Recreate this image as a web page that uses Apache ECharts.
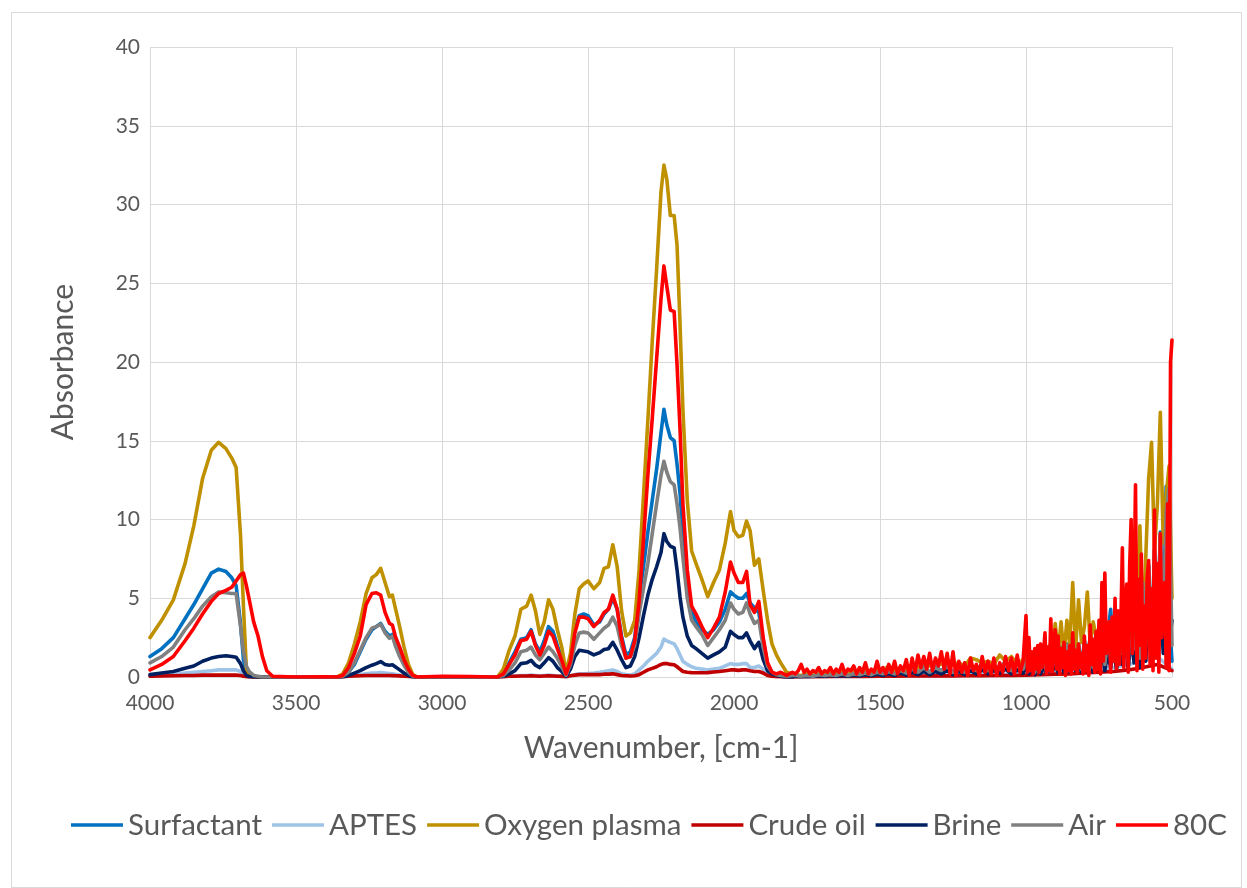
<!DOCTYPE html>
<html>
<head>
<meta charset="utf-8">
<script src="https://cdn.jsdelivr.net/npm/echarts@6/dist/echarts.min.js"></script>
<style>
html,body{margin:0;padding:0;background:#fff;}
#chart{width:1247px;height:888px;}
</style>
</head>
<body>
<div id="chart"></div>
<script>
// ---------- DATA ----------
const seriesNames = ["Surfactant", "APTES", "Oxygen plasma", "Crude oil", "Brine", "Air", "80C"];
const seriesColors = ["#0070C0", "#9DC3E6", "#BF9000", "#C00000", "#002060", "#808080", "#FF0000"];
const xTicks = [4000, 3500, 3000, 2500, 2000, 1500, 1000, 500];

// smooth part of the spectrum (4000 -> 1800 cm-1)
const wnA = [4000, 3960, 3920, 3880, 3850, 3820, 3790, 3765, 3740, 3720, 3705, 3690, 3680, 3670, 3660, 3645, 3630, 3615, 3600, 3580, 3500, 3400, 3360,
  3340, 3320, 3300, 3280, 3260, 3240, 3225, 3210, 3195, 3180, 3170, 3160, 3145, 3130, 3115, 3100, 3085, 3000, 2900, 2830,
  2810, 2790, 2770, 2750, 2730, 2710, 2695, 2680, 2665, 2650, 2635, 2620, 2605, 2590, 2575, 2560, 2545, 2530, 2515, 2500,
  2480, 2460, 2445, 2430, 2415, 2400, 2385, 2370, 2355, 2340, 2325, 2310, 2295, 2280, 2265, 2250, 2240, 2230, 2218, 2205,
  2195, 2185, 2175, 2160, 2145, 2130, 2110, 2090, 2070, 2050, 2030, 2012, 2000, 1985, 1970, 1957, 1945, 1930, 1915, 1900,
  1885, 1870, 1855, 1840, 1820, 1800];

const surfactantA = [1.3, 1.8, 2.5, 3.7, 4.6, 5.6, 6.6, 6.85, 6.7, 6.3, 5.8, 3.4, 1.1, 0.3, 0.1, 0, 0, 0, 0, 0, 0, 0, 0,
  0.05, 0.3, 0.8, 1.6, 2.4, 3.0, 3.2, 3.4, 2.9, 2.6, 2.7, 2.1, 1.4, 0.8, 0.35, 0.05, 0, 0, 0, 0,
  0, 0.2, 0.9, 1.6, 2.4, 2.5, 3.0, 2.1, 1.6, 2.3, 3.2, 2.9, 2.0, 1.2, 0.2, 1.1, 3.0, 3.9, 4.0, 3.9,
  3.3, 3.5, 4.0, 4.3, 5.0, 4.3, 2.6, 1.4, 1.6, 2.5, 5.0, 7.0, 9.2, 11.2, 13.2, 15.5, 17.0, 16.0, 15.2, 15.0,
  13.5, 11.7, 9.0, 6.0, 4.2, 3.5, 3.0, 2.7, 3.0, 3.5, 4.3, 5.4, 5.2, 5.0, 5.0, 5.3, 4.7, 4.4, 4.1, 2.3,
  0.8, 0.3, 0.1, 0.05, 0, 0];
const aptesA = [0.05, 0.1, 0.15, 0.25, 0.3, 0.35, 0.4, 0.45, 0.45, 0.45, 0.45, 0.35, 0.15, 0.05, 0, 0, 0, 0, 0, 0, 0, 0, 0,
  0, 0.05, 0.1, 0.15, 0.2, 0.25, 0.25, 0.28, 0.25, 0.22, 0.2, 0.18, 0.12, 0.08, 0.04, 0, 0, 0, 0, 0,
  0, 0.02, 0.05, 0.08, 0.1, 0.1, 0.12, 0.1, 0.08, 0.1, 0.12, 0.1, 0.08, 0.05, 0.02, 0.08, 0.15, 0.2, 0.2, 0.22,
  0.25, 0.3, 0.35, 0.4, 0.45, 0.35, 0.2, 0.15, 0.12, 0.2, 0.45, 0.7, 1.0, 1.25, 1.5, 1.9, 2.4, 2.3, 2.2, 2.1,
  1.8, 1.4, 1.0, 0.8, 0.65, 0.55, 0.5, 0.45, 0.5, 0.55, 0.7, 0.85, 0.8, 0.8, 0.85, 0.85, 0.6, 0.6, 0.7, 0.5,
  0.25, 0.1, 0.05, 0.03, 0, 0];
const oxygenA = [2.5, 3.6, 4.9, 7.2, 9.6, 12.6, 14.4, 14.9, 14.5, 13.9, 13.3, 9.0, 4.5, 0.5, 0.1, 0, 0, 0, 0, 0, 0, 0, 0,
  0.2, 0.9, 2.1, 3.5, 5.3, 6.3, 6.5, 6.9, 6.0, 5.1, 5.2, 4.4, 3.2, 1.9, 0.8, 0.15, 0, 0, 0, 0,
  0, 0.5, 1.7, 2.6, 4.3, 4.5, 5.2, 4.2, 2.7, 3.5, 4.9, 4.3, 3.0, 1.9, 0.3, 1.5, 4.0, 5.6, 5.9, 6.1,
  5.6, 6.0, 6.9, 7.0, 8.4, 7.0, 4.2, 2.6, 2.8, 3.6, 6.8, 11.5, 16.3, 21.3, 25.9, 30.8, 32.5, 31.6, 29.3, 29.3,
  27.4, 22.5, 17.0, 11.2, 8.0, 7.2, 6.2, 5.1, 6.0, 6.8, 8.5, 10.5, 9.3, 8.9, 9.0, 9.9, 9.3, 7.1, 7.5, 5.5,
  3.6, 2.1, 1.4, 0.9, 0.3, 0.2];
const crudeA = [0.05, 0.06, 0.08, 0.1, 0.1, 0.12, 0.12, 0.13, 0.12, 0.12, 0.12, 0.1, 0.05, 0.02, 0, 0, 0, 0, 0, 0, 0, 0, 0,
  0.02, 0.05, 0.07, 0.08, 0.1, 0.1, 0.1, 0.1, 0.1, 0.1, 0.09, 0.08, 0.07, 0.05, 0.03, 0.02, 0, 0, 0, 0,
  0, 0.02, 0.05, 0.05, 0.06, 0.06, 0.07, 0.06, 0.05, 0.06, 0.07, 0.06, 0.05, 0.04, 0.02, 0.08, 0.12, 0.15, 0.15, 0.15,
  0.15, 0.15, 0.18, 0.18, 0.2, 0.15, 0.1, 0.08, 0.06, 0.08, 0.15, 0.3, 0.45, 0.55, 0.65, 0.8, 0.85, 0.85, 0.8, 0.78,
  0.65, 0.5, 0.35, 0.3, 0.28, 0.27, 0.27, 0.28, 0.32, 0.35, 0.4, 0.45, 0.45, 0.42, 0.45, 0.45, 0.4, 0.35, 0.35, 0.25,
  0.1, 0.05, 0.02, 0.02, 0, 0];
const brineA = [0.15, 0.25, 0.35, 0.55, 0.7, 1.0, 1.2, 1.3, 1.35, 1.3, 1.25, 0.85, 0.4, 0.1, 0.03, 0, 0, 0, 0, 0, 0, 0, 0,
  0.02, 0.1, 0.25, 0.4, 0.6, 0.75, 0.85, 0.98, 0.8, 0.75, 0.78, 0.65, 0.45, 0.25, 0.1, 0.02, 0, 0, 0, 0,
  0, 0.05, 0.2, 0.4, 0.85, 0.9, 1.06, 0.75, 0.6, 0.9, 1.23, 1.0, 0.6, 0.35, 0.05, 0.5, 1.3, 1.7, 1.65, 1.6,
  1.4, 1.55, 1.75, 1.8, 2.2, 1.7, 1.1, 0.6, 0.7, 1.3, 2.5, 3.9, 5.2, 6.2, 7.0, 7.9, 9.1, 8.6, 8.3, 8.2,
  6.8, 5.1, 3.8, 2.6, 2.0, 1.8, 1.5, 1.2, 1.4, 1.6, 1.9, 2.9, 2.7, 2.5, 2.5, 2.8, 2.3, 1.8, 2.2, 1.1,
  0.4, 0.2, 0.1, 0.05, 0, 0];
const airA = [0.9, 1.3, 1.9, 3.0, 3.7, 4.5, 5.1, 5.4, 5.35, 5.3, 5.3, 3.2, 1.6, 0.7, 0.35, 0.1, 0.05, 0, 0, 0, 0, 0, 0,
  0.05, 0.3, 0.9, 1.7, 2.5, 3.1, 3.2, 3.35, 2.8, 2.45, 2.6, 2.0, 1.3, 0.75, 0.3, 0.05, 0, 0, 0, 0,
  0, 0.1, 0.45, 0.9, 1.6, 1.7, 1.9, 1.4, 1.1, 1.5, 1.9, 1.6, 1.2, 0.66, 0.1, 0.8, 2.0, 2.8, 2.85, 2.8,
  2.4, 2.8, 3.1, 3.3, 3.8, 3.2, 2.0, 1.2, 1.3, 2.0, 4.0, 5.6, 7.2, 9.1, 11.0, 12.8, 13.7, 13.0, 12.4, 12.2,
  11.0, 9.5, 7.6, 5.0, 3.6, 3.2, 2.7, 2.0, 2.5, 3.0, 3.6, 4.7, 4.3, 4.0, 4.1, 4.7, 4.0, 3.4, 3.6, 1.9,
  0.7, 0.3, 0.15, 0.1, 0.05, 0.1];
const c80A = [0.45, 0.8, 1.3, 2.3, 3.1, 4.0, 4.8, 5.3, 5.5, 5.7, 6.1, 6.5, 6.6, 5.8, 4.9, 3.5, 2.6, 1.3, 0.4, 0.05, 0, 0.02, 0,
  0.1, 0.6, 1.5, 2.6, 4.6, 5.3, 5.35, 5.2, 4.1, 3.4, 3.3, 2.6, 1.9, 1.1, 0.5, 0.1, 0, 0.05, 0.03, 0,
  0, 0.2, 0.8, 1.4, 2.3, 2.4, 2.9, 2.0, 1.4, 2.0, 2.9, 2.6, 1.8, 1.06, 0.2, 1.0, 2.8, 3.8, 3.8, 3.7,
  3.2, 3.6, 4.1, 4.3, 5.2, 4.3, 2.4, 1.2, 1.3, 2.3, 4.8, 8.7, 12.8, 16.4, 20.2, 24.0, 26.1, 24.8, 23.3, 23.2,
  19.8, 15.8, 11.0, 6.8, 4.5, 4.0, 3.2, 2.5, 3.1, 3.8, 5.4, 7.3, 6.6, 6.0, 6.0, 6.7, 4.6, 4.1, 4.8, 2.5,
  0.9, 0.3, 0.2, 0.3, 0.1, 0.3];

// noisy fingerprint part (1790 -> 500 cm-1), regular sampling grids
function sampleGrid(from, to, step) { const a = []; for (let w = from; w >= to; w -= step) a.push(w); return a; }
const wnFine = sampleGrid(1790, 1010, 10).concat(sampleGrid(1000, 500, 5));   // 80C
const wnMid = sampleGrid(1790, 1010, 20).concat(sampleGrid(1000, 500, 10));   // Surfactant, Oxygen plasma, Brine, Air
const wnLow = sampleGrid(1750, 500, 50);                                      // APTES, Crude oil

const c80B = [0.2, 0.4, 0.8, 0.3, 0.5, 0.2, 0.4, 0.3, 0.6, 0.2,
  0.4, 0.3, 0.6, 0.2, 0.5, 0.3, 0.8, 0.2, 0.5, 0.4,
  0.7, 0.2, 0.6, 0.3, 0.9, 0.2, 0.5, 0.3, 1.0, 0.3,
  0.6, 0.2, 0.8, 0.3, 1.0, 0.2, 0.7, 0.4, 1.1, 0.1,
  1.2, 0.3, 1.4, 0.6, 1.3, 0.5, 1.5, 0.4, 1.2, 0.7,
  1.6, 0.5, 1.5, 0.2, 1.6, 0.1, 1.0, 0.3, 0.9, 0.1,
  1.2, 0.4, 0.8, 0.1, 1.3, 0.3, 1.0, 0.2, 1.2, 0.1,
  0.9, 0.3, 1.3, 0.4, 1.2, 0.2, 1.4, 0.3, 1.0,
  3.9, 0.3, 2.5, 0.4, 1.6, 0.2, 1.8, 0.5, 2.0, 0.3,
  2.1, 0.6, 1.5, 2.8, 0.2, 1.9, 0.4, 3.7, 0.3, 2.2,
  3.0, 0.5, 2.6, 0.2, 1.8, 0.6, 2.2, 0.1, 1.6, 0.4,
  2.0, 0.2, 2.8, 0.5, 1.7, 0.3, 2.1, 0.6, 1.5, 0.2,
  2.6, 0.4, 2.0, 0.1, 3.3, 0.8, 2.4, 0.3, 2.9, 0.5,
  3.6, 0.2, 6.0, 1.0, 6.6, 1.5, 2.8, 3.5, 0.3, 3.8,
  1.0, 5.0, 0.5, 4.2, 0.8, 3.5, 8.2, 0.6, 4.6, 5.9,
  0.3, 7.0, 10.0, 1.5, 5.5, 12.2, 0.4, 6.2, 2.0, 7.8,
  0.5, 4.5, 1.2, 6.3, 7.4, 0.8, 5.6, 0.4, 10.6, 1.2,
  7.2, 0.3, 9.1, 2.5, 5.5, 6.0, 0.6, 11.0, 0.4, 20.0,
  21.4];
const oxygenB = [0.15, 0.1, 0.2, 0.1, 0.25, 0.15, 0.3, 0.2, 0.3, 0.2,
  0.35, 0.25, 0.4, 0.3, 0.5, 0.4, 0.7, 0.4, 0.6, 0.5,
  0.8, 0.6, 0.9, 0.7, 1.0, 0.8, 1.1, 0.8, 0.9, 0.7,
  1.2, 1.1, 0.9, 1.0, 0.8, 1.4, 1.0, 1.3, 0.8, 1.1,
  1.5, 0.9, 1.3, 0.8, 1.6, 1.0, 1.8, 1.2, 2.0, 1.3,
  3.4, 1.5, 3.5, 1.4, 3.6, 2.0, 6.0, 1.8, 4.9, 2.2,
  3.2, 5.4, 2.0, 3.5, 2.6, 2.8, 3.2, 2.4, 3.0, 2.2,
  2.8, 3.7, 2.5, 4.0, 3.0, 4.5, 3.5, 5.0, 4.0, 9.6,
  3.0, 7.5, 12.6, 14.9, 8.0, 11.0, 16.8, 8.5, 11.5, 13.4,
  5.0];
const surfactantB = [0.1, 0.05, 0.12, 0.05, 0.15, 0.1, 0.18, 0.1, 0.2, 0.12,
  0.22, 0.15, 0.28, 0.15, 0.3, 0.2, 0.4, 0.2, 0.45, 0.25,
  0.55, 0.3, 0.65, 0.3, 0.65, 0.4, 0.75, 0.3, 0.65, 0.3,
  0.8, 0.4, 0.85, 0.4, 0.75, 0.5, 1.0, 0.4, 0.9, 0.5,
  1.1, 0.4, 1.0, 0.3, 1.2, 0.5, 1.3, 0.4, 1.5, 0.6,
  1.6, 0.5, 1.9, 0.7, 2.1, 0.6, 2.5, 0.8, 2.1, 0.5,
  2.3, 0.9, 2.6, 0.6, 2.9, 1.0, 3.1, 0.8, 2.7, 4.3,
  1.2, 1.0, 3.6, 1.5, 4.1, 1.0, 4.6, 1.8, 5.6, 1.2,
  6.1, 2.0, 7.1, 1.5, 8.1, 2.5, 9.2, 3.0, 12.1, 4.0,
  1.0];
const brineB = [0.05, 0.02, 0.05, 0.03, 0.08, 0.05, 0.1, 0.05, 0.1, 0.05,
  0.12, 0.06, 0.15, 0.08, 0.18, 0.1, 0.2, 0.1, 0.25, 0.12,
  0.3, 0.15, 0.35, 0.15, 0.35, 0.2, 0.4, 0.15, 0.35, 0.15,
  0.4, 0.2, 0.45, 0.2, 0.4, 0.25, 0.5, 0.2, 0.45, 0.25,
  0.6, 0.2, 0.5, 0.15, 0.6, 0.2, 0.7, 0.2, 0.8, 0.3,
  0.9, 0.25, 1.0, 0.3, 1.1, 0.3, 1.3, 0.4, 1.1, 0.3,
  1.2, 0.4, 1.4, 0.3, 1.6, 0.5, 1.7, 0.4, 1.5, 0.6,
  1.8, 0.5, 2.0, 0.8, 2.3, 0.5, 2.6, 0.9, 3.2, 0.6,
  3.5, 1.0, 4.0, 0.8, 4.6, 1.2, 5.2, 1.5, 6.8, 2.0,
  3.6];
const airB = [0.1, 0.05, 0.1, 0.05, 0.15, 0.1, 0.15, 0.1, 0.2, 0.1,
  0.2, 0.15, 0.25, 0.15, 0.3, 0.2, 0.35, 0.2, 0.4, 0.25,
  0.5, 0.3, 0.6, 0.3, 0.6, 0.4, 0.7, 0.3, 0.6, 0.3,
  0.7, 0.4, 0.8, 0.4, 0.7, 0.5, 0.9, 0.4, 0.8, 0.5,
  1.0, 0.4, 0.9, 0.3, 1.1, 0.5, 1.2, 0.4, 1.4, 0.6,
  1.5, 0.5, 1.8, 0.7, 2.0, 0.6, 2.4, 0.8, 2.0, 0.5,
  2.2, 0.9, 2.5, 0.6, 2.8, 1.0, 3.0, 0.8, 2.6, 1.2,
  3.2, 0.9, 3.5, 1.5, 4.0, 1.0, 4.5, 1.8, 5.5, 1.2,
  6.0, 2.0, 7.0, 1.5, 8.0, 2.5, 9.0, 3.0, 10.5, 12.0,
  2.0];
const aptesB = [0.02, 0.03, 0.03, 0.05, 0.04, 0.06, 0.08, 0.1, 0.09, 0.12, 0.1, 0.12, 0.15,
  0.14, 0.18, 0.2, 0.25, 0.3, 0.35, 0.4, 0.5, 0.6, 0.8, 1.0, 1.3, 0.5];
const crudeB = [0.02, 0.02, 0.03, 0.03, 0.04, 0.05, 0.05, 0.06, 0.06, 0.07, 0.07, 0.08, 0.08,
  0.1, 0.1, 0.12, 0.15, 0.18, 0.2, 0.25, 0.3, 0.35, 0.45, 0.6, 0.8, 0.4];

// ---------- BUILD ----------
function pairs(xs, ys) { return xs.map((x, i) => [x, ys[i]]); }
const seriesData = [
  pairs(wnA, surfactantA).concat(pairs(wnMid, surfactantB)),
  pairs(wnA, aptesA).concat(pairs(wnLow, aptesB)),
  pairs(wnA, oxygenA).concat(pairs(wnMid, oxygenB)),
  pairs(wnA, crudeA).concat(pairs(wnLow, crudeB)),
  pairs(wnA, brineA).concat(pairs(wnMid, brineB)),
  pairs(wnA, airA).concat(pairs(wnMid, airB)),
  pairs(wnA, c80A).concat(pairs(wnFine, c80B))
];

const FONT = "Lato";
const chart = echarts.init(document.getElementById('chart'), null, {renderer: 'canvas'});
chart.setOption({
  animation: false,
  backgroundColor: '#ffffff',
  textStyle: {fontFamily: FONT},
  graphic: [{
    type: 'rect', left: 9, top: 10, silent: true, z: -1,
    shape: {width: 1230, height: 875},
    style: {fill: 'none', stroke: '#d9d9d9', lineWidth: 1}
  }],
  grid: {left: 150, right: 75, top: 47, bottom: 211, containLabel: false},
  legend: {
    data: seriesNames,
    left: 66, top: 805,
    icon: 'rect', itemWidth: 52, itemHeight: 3.5, itemGap: 10,
    textStyle: {fontFamily: FONT, fontSize: 29.5, color: '#595959'}
  },
  xAxis: {
    type: 'value', inverse: true, min: 500, max: 4000, interval: 500,
    name: 'Wavenumber, [cm-1]', nameLocation: 'middle', nameGap: 56,
    nameTextStyle: {fontFamily: FONT, fontSize: 30, color: '#595959'},
    axisLine: {show: false}, axisTick: {show: false},
    axisLabel: {fontFamily: FONT, fontSize: 21, color: '#595959', margin: 16,
      formatter: v => xTicks.includes(v) ? String(v) : ''},
    splitLine: {show: true, lineStyle: {color: '#d9d9d9', width: 1}}
  },
  yAxis: {
    type: 'value', min: 0, max: 40, interval: 5,
    name: 'Absorbance', nameLocation: 'middle', nameGap: 72,
    nameTextStyle: {fontFamily: FONT, fontSize: 30, color: '#595959'},
    axisLine: {show: false}, axisTick: {show: false},
    axisLabel: {fontFamily: FONT, fontSize: 21, color: '#595959', margin: 10},
    splitLine: {show: true, lineStyle: {color: '#d9d9d9', width: 1}}
  },
  series: seriesNames.map((n, i) => ({
    name: n, type: 'line', data: seriesData[i],
    showSymbol: false, symbol: 'none',
    lineStyle: {color: seriesColors[i], width: 3.6, join: 'round', cap: 'round'},
    itemStyle: {color: seriesColors[i]},
    emphasis: {disabled: true}
  }))
});
</script>
</body>
</html>
